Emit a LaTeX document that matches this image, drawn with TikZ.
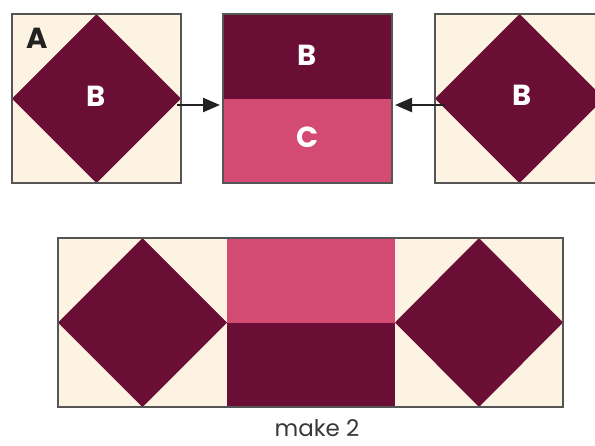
\documentclass[tikz,border=0pt]{standalone}
\usepackage{fontspec}
\setmainfont{Poppins}
\usetikzlibrary{arrows.meta}
\definecolor{maroon}{HTML}{6A0E35}
\definecolor{rose}{HTML}{D34A73}
\definecolor{cream}{HTML}{FDF3E3}
\definecolor{edge}{HTML}{555555}
\definecolor{ink}{HTML}{222222}
\begin{document}
\begin{tikzpicture}[x=1pt,y=-1pt,
  blockframe/.style={draw=edge,line width=1.2pt,minimum size=169pt,inner sep=0pt,outer sep=0pt},
  lab/.style={text=white,font=\bfseries\fontsize{29}{29}\selectfont,inner sep=0pt},
  arr/.style={draw=ink,line width=2.3pt,-{Triangle[length=17pt,width=14pt]}}]
\useasboundingbox (0,0) rectangle (595,445);
\fill[white] (0,0) rectangle (595,445);
\begin{scope}
\clip (0,0) rectangle (595,445);
% block 1
\fill[cream] (12,14) rectangle (181,183);
\fill[maroon] (96.5,14) -- (181,98.5) -- (96.5,183) -- (12,98.5) -- cycle;
\node[blockframe] (b1) at (96.5,98.5) {};
% block 2
\fill[maroon] (223,14) rectangle (392,99);
\fill[rose] (223,99) rectangle (392,183);
\node[blockframe] (b2) at (307.5,98.5) {};
% block 3
\fill[cream] (435,14) rectangle (604,183);
\fill[maroon] (519.5,14) -- (604,98.5) -- (519.5,183) -- (435,98.5) -- cycle;
\node[blockframe] (b3) at (519.5,98.5) {};
% bottom row
\fill[cream] (58,238) rectangle (563,407);
\fill[maroon] (142.5,238) -- (227,322.5) -- (142.5,407) -- (58,322.5) -- cycle;
\fill[rose] (227,238) rectangle (395,323);
\fill[maroon] (227,323) rectangle (395,407);
\fill[maroon] (479,238) -- (563,322.5) -- (479,407) -- (395,322.5) -- cycle;
\node[draw=edge,line width=1.2pt,minimum width=505pt,minimum height=169pt,inner sep=0pt] (row) at (310.5,322.5) {};
\end{scope}
% labels
\node[lab,text=ink] (la) at (37.5,38) {A};
\node[lab] (lb1) at (96.5,96) {B};
\node[lab] (lb2) at (307.5,55) {B};
\node[lab] (lc) at (308,137) {C};
\node[lab] (lb3) at (522,95) {B};
\node[text=ink!90,font=\fontsize{23}{23}\selectfont,inner sep=0pt,anchor=base] (mk) at (317,436) {make 2};
% arrows
\draw[arr] ([xshift=-4pt,yshift=-6.5pt]b1.east) -- ([xshift=-3pt,yshift=-6.5pt]b2.west);
\draw[arr] ([xshift=10pt,yshift=-6.5pt]b3.west) -- ([xshift=3pt,yshift=-6.5pt]b2.east);
\end{tikzpicture}
\end{document}
